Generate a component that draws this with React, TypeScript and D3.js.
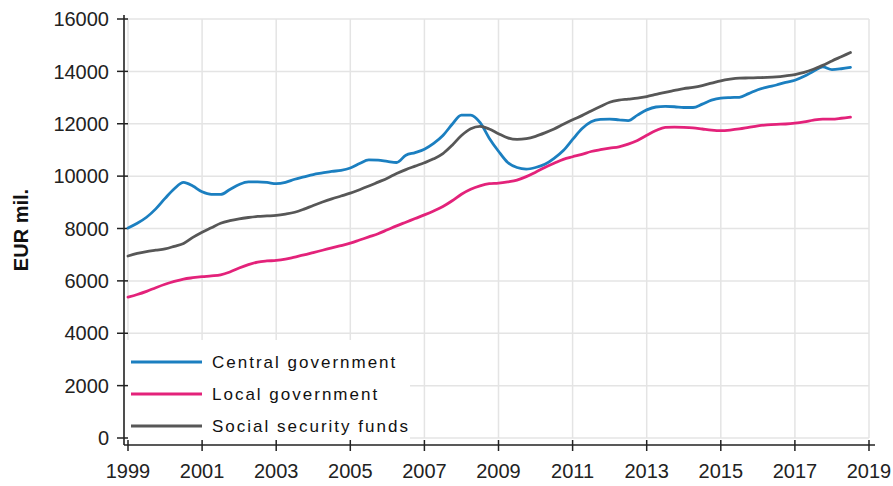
import React, { useEffect, useRef } from "react";
import * as d3 from "d3";

const START_YEAR = 1999;
const QUARTERS_PER_YEAR = 4;

const seriesNames = ["Central government", "Local government", "Social security funds"];
const seriesColors = ["#1b7fc0", "#e3227a", "#575757"];

const centralGov = [
  8020, 8200, 8430, 8750, 9150, 9520, 9760, 9620, 9400, 9300, 9300, 9490, 9680, 9780, 9780, 9760,
  9710, 9760, 9880, 9970, 10060, 10120, 10180, 10220, 10310, 10480, 10620, 10610, 10560, 10520, 10800, 10900,
  11030, 11250, 11550, 11980, 12330, 12330, 12050, 11450, 10950, 10520, 10330, 10270, 10330, 10450, 10680, 10980,
  11400, 11810, 12080, 12170, 12180, 12150, 12120, 12330, 12530, 12640, 12660, 12650, 12620, 12620, 12750, 12900,
  12980, 13000, 13010, 13150, 13300, 13400, 13480, 13580, 13660, 13810, 14000, 14170, 14070, 14100, 14150,
];

const localGov = [
  5380, 5480, 5600, 5740, 5870, 5980, 6070, 6120, 6160, 6190, 6230, 6340, 6490, 6620, 6720, 6760,
  6780, 6830, 6910, 6990, 7080, 7170, 7260, 7350, 7440, 7560, 7680, 7800, 7950, 8100, 8240, 8380,
  8520, 8670, 8840, 9060, 9310, 9500, 9630, 9710, 9730, 9780, 9850, 9980, 10150, 10330, 10490, 10640,
  10740, 10830, 10940, 11010, 11070, 11120, 11220, 11360, 11560, 11740, 11860, 11870, 11860, 11840, 11800, 11760,
  11740, 11760, 11800, 11860, 11920, 11960, 11980, 11990, 12020, 12070, 12140, 12180, 12180, 12210, 12250,
];

const socialSecurity = [
  6950, 7050, 7120, 7170, 7220, 7320, 7430, 7660, 7860, 8030, 8200, 8300, 8370, 8420, 8460, 8480,
  8500, 8550, 8620, 8740, 8880, 9010, 9130, 9240, 9350, 9480, 9620, 9770, 9920, 10100, 10250, 10380,
  10510, 10660, 10860, 11180, 11550, 11810, 11900, 11800, 11620, 11460, 11400, 11430, 11520, 11650, 11800, 11980,
  12150, 12310, 12490, 12660, 12820, 12900, 12940, 12980, 13040, 13120, 13200, 13270, 13340, 13390, 13460, 13550,
  13640, 13700, 13740, 13750, 13760, 13770, 13790, 13830, 13880, 13960, 14080, 14230, 14400, 14560, 14720,
];

const yTicks = [0, 2000, 4000, 6000, 8000, 10000, 12000, 14000, 16000];
const xTicks = [1999, 2001, 2003, 2005, 2007, 2009, 2011, 2013, 2015, 2017, 2019];
const yAxisTitle = "EUR mil.";

export default function App() {
  const ref = useRef<SVGSVGElement>(null);

  useEffect(() => {
    const svg = d3.select(ref.current);
    svg.selectAll("*").remove();

    const x = d3.scaleLinear().domain([1999, 2019]).range([128, 869]);
    const y = d3.scaleLinear().domain([0, 16000]).range([438, 19]);

    const font = "Arial, 'Liberation Sans', sans-serif";

    // gridlines
    const grid = svg.append("g");
    yTicks.forEach((t) => {
      grid.append("line").attr("x1", x(1999)).attr("x2", x(2019)).attr("y1", y(t)).attr("y2", y(t))
        .attr("stroke", "#e4e4e4").attr("stroke-width", 1.5);
    });
    xTicks.forEach((t) => {
      grid.append("line").attr("x1", x(t)).attr("x2", x(t)).attr("y1", y(0)).attr("y2", y(16000))
        .attr("stroke", "#e4e4e4").attr("stroke-width", 1.5);
    });

    // legend background hides grid
    svg.append("rect").attr("x", 127).attr("y", 340).attr("width", 283).attr("height", 102).attr("fill", "#fff");

    // axes
    const axisColor = "#222";
    const axisY = 445;
    const axisX = 124;
    svg.append("line").attr("x1", axisX).attr("x2", axisX).attr("y1", 15).attr("y2", axisY)
      .attr("stroke", axisColor).attr("stroke-width", 1.6);
    svg.append("line").attr("x1", axisX).attr("x2", 875).attr("y1", axisY).attr("y2", axisY)
      .attr("stroke", axisColor).attr("stroke-width", 1.6);

    yTicks.forEach((t) => {
      svg.append("line").attr("x1", 117).attr("x2", 128).attr("y1", y(t)).attr("y2", y(t))
        .attr("stroke", axisColor).attr("stroke-width", 1.5);
      svg.append("text").attr("x", 109).attr("y", y(t)).attr("dy", "0.36em")
        .attr("text-anchor", "end").attr("font-family", font).attr("font-size", 20)
        .attr("fill", "#222").text(String(t));
    });
    xTicks.forEach((t) => {
      svg.append("line").attr("x1", x(t)).attr("x2", x(t)).attr("y1", 440).attr("y2", 451)
        .attr("stroke", axisColor).attr("stroke-width", 1.5);
      svg.append("text").attr("x", x(t)).attr("y", 478)
        .attr("text-anchor", "middle").attr("font-family", font).attr("font-size", 20)
        .attr("fill", "#222").text(String(t));
    });

    svg.append("text").attr("transform", "translate(28,230) rotate(-90)")
      .attr("text-anchor", "middle").attr("font-family", font).attr("font-size", 20)
      .attr("font-weight", "bold").attr("fill", "#111").text(yAxisTitle);

    // lines
    const allSeries = [centralGov, localGov, socialSecurity];
    const line = d3.line<number>()
      .x((_, i) => x(START_YEAR + i / QUARTERS_PER_YEAR))
      .y((d) => y(d))
      .curve(d3.curveMonotoneX);
    allSeries.forEach((s, k) => {
      svg.append("path").attr("d", line(s) as string).attr("fill", "none")
        .attr("stroke", seriesColors[k]).attr("stroke-width", 2.8)
        .attr("stroke-linejoin", "round").attr("stroke-linecap", "round");
    });

    // legend
    seriesNames.forEach((name, k) => {
      const ly = 362 + k * 32;
      svg.append("line").attr("x1", 131).attr("x2", 202).attr("y1", ly).attr("y2", ly)
        .attr("stroke", seriesColors[k]).attr("stroke-width", 3);
      svg.append("text").attr("x", 212).attr("y", ly).attr("dy", "0.36em")
        .attr("font-family", font).attr("font-size", 17).attr("letter-spacing", 2)
        .attr("fill", "#111").text(name);
    });
  }, []);

  return (
    <div style={{ position: "absolute", left: 0, top: 0 }}>
      <svg ref={ref} width={893} height={486} style={{ display: "block", background: "#fff" }} />
    </div>
  );
}
